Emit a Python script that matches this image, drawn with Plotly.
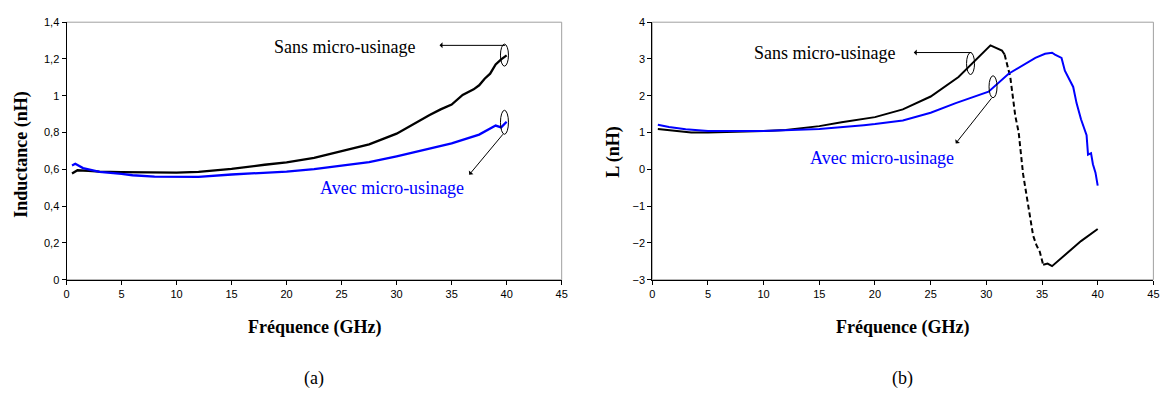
import plotly.graph_objects as go

# ---------------- data ----------------
# (a) Inductance (nH) vs frequency (GHz)
fa_sans = [0.5, 1, 2, 3, 5, 8, 10, 12, 15, 18, 20, 22.5, 25, 27.5, 30, 32, 33, 34, 35, 36, 37, 37.5, 38, 38.5, 39, 39.5, 40]
La_sans = [0.577, 0.595, 0.592, 0.588, 0.585, 0.582, 0.582, 0.586, 0.603, 0.625, 0.638, 0.662, 0.697, 0.736, 0.794,
           0.864, 0.895, 0.926, 0.952, 1.005, 1.035, 1.057, 1.093, 1.12, 1.17, 1.198, 1.22]
fa_avec = [0.5, 0.8, 1.5, 2, 3, 5, 6, 8, 10, 12, 15, 18, 20, 22.5, 25, 27.5, 30, 32.5, 35, 37.5, 39, 39.5, 40]
La_avec = [0.621, 0.63, 0.607, 0.6, 0.586, 0.575, 0.568, 0.56, 0.559, 0.559, 0.572, 0.58, 0.588, 0.601, 0.622,
           0.639, 0.671, 0.706, 0.741, 0.789, 0.838, 0.828, 0.859]

# (b) L (nH) vs frequency (GHz)
fb_sans = [0.5, 2, 3.5, 5, 8, 10, 12, 15, 17, 19, 20, 22.5, 25, 27.5, 28.5, 29.5, 30.37, 31.4, 31.64]
Lb_sans = [1.096, 1.04, 1.0, 1.0, 1.02, 1.04, 1.07, 1.175, 1.28, 1.37, 1.42, 1.63, 1.98, 2.51, 2.81, 3.12, 3.37, 3.23, 3.12]
fb_sans_drop = [31.64, 32.15, 32.6, 32.9, 33.3, 33.8, 34.2, 34.5, 34.8, 35.1]
Lb_sans_drop = [3.12, 2.51, 1.45, 1.01, -0.13, -1.0, -1.8, -2.06, -2.24, -2.59]
fb_sans_tail = [35.1, 35.5, 35.9, 37.05, 38.5, 40]
Lb_sans_tail = [-2.59, -2.56, -2.63, -2.34, -1.95, -1.62]
fb_avec = [0.5, 1.5, 3, 5, 10, 15, 19, 20, 22.5, 25, 27.25, 30.2, 32.0, 34.4, 35.27, 35.9, 36.16, 36.75,
           37.05, 37.8, 38.1, 38.5, 39.0, 39.13, 39.4, 39.57, 39.8, 40.0]
Lb_avec = [1.21, 1.15, 1.09, 1.04, 1.04, 1.1, 1.2, 1.23, 1.33, 1.54, 1.80, 2.11, 2.6, 3.03, 3.14, 3.17, 3.12, 3.03,
           2.68, 2.24, 1.80, 1.36, 0.93, 0.40, 0.44, 0.14, -0.09, -0.44]

x_ticks = [0, 5, 10, 15, 20, 25, 30, 35, 40, 45]
ya_ticks = [0, 0.2, 0.4, 0.6, 0.8, 1.0, 1.2, 1.4]
ya_text = ["0", "0,2", "0,4", "0,6", "0,8", "1", "1,2", "1,4"]
yb_ticks = [-3, -2, -1, 0, 1, 2, 3, 4]

BLACK = "#000000"
BLUE = "#0000FF"
SERIF = "Liberation Serif, Times New Roman, serif"
SANS = "Liberation Sans, Arial, sans-serif"

fig = go.Figure()
lw = 2
fig.add_trace(go.Scatter(x=fa_sans, y=La_sans, mode="lines", line=dict(color=BLACK, width=2.3), xaxis="x", yaxis="y"))
fig.add_trace(go.Scatter(x=fa_avec, y=La_avec, mode="lines", line=dict(color=BLUE, width=2.3), xaxis="x", yaxis="y"))
fig.add_trace(go.Scatter(x=fb_sans, y=Lb_sans, mode="lines", line=dict(color=BLACK, width=lw), xaxis="x2", yaxis="y2"))
fig.add_trace(go.Scatter(x=fb_sans_drop, y=Lb_sans_drop, mode="lines",
                         line=dict(color=BLACK, width=lw, dash="5px,3px"), xaxis="x2", yaxis="y2"))
fig.add_trace(go.Scatter(x=fb_sans_tail, y=Lb_sans_tail, mode="lines", line=dict(color=BLACK, width=lw), xaxis="x2", yaxis="y2"))
fig.add_trace(go.Scatter(x=fb_avec, y=Lb_avec, mode="lines", line=dict(color=BLUE, width=lw), xaxis="x2", yaxis="y2"))

W, H = 1171, 396
xa_dom = [64 / W, 563 / W]
xb_dom = [654.3 / W, 1159.3 / W]
y_dom = [1 - 282.3 / H, 1 - 16.7 / H]

axis_common = dict(showgrid=False, zeroline=False, showline=True, linecolor=BLACK, linewidth=1,
                   ticks="outside", ticklen=4, tickcolor=BLACK, tickwidth=1,
                   tickfont=dict(family=SANS, size=11, color=BLACK))

fig.update_layout(
    width=W, height=H, margin=dict(l=0, r=0, t=0, b=0),
    paper_bgcolor="white", plot_bgcolor="white", showlegend=False,
    xaxis=dict(domain=xa_dom, range=[0, 45], tickvals=x_ticks, anchor="y", **axis_common),
    yaxis=dict(domain=y_dom, range=[0, 1.4], tickvals=ya_ticks, ticktext=ya_text, anchor="x", **axis_common),
    xaxis2=dict(domain=xb_dom, range=[0, 45], tickvals=x_ticks, anchor="y2", **axis_common),
    yaxis2=dict(domain=y_dom, range=[-3, 4], tickvals=yb_ticks, anchor="x2", **axis_common),
)

# gray plot-area frames
for xr, yr in (("x domain", "y domain"), ("x2 domain", "y2 domain")):
    fig.add_shape(type="rect", xref=xr, yref=yr, x0=0, x1=1, y0=0, y1=1,
                  line=dict(color="#A0A0A0", width=1), layer="below")

# ellipses around curve ends
def ellipse(xref, yref, x, y, w, h):
    fig.add_shape(type="circle", xref=xref, yref=yref, xsizemode="pixel", ysizemode="pixel",
                  xanchor=x, yanchor=y, x0=-w / 2, x1=w / 2, y0=-h / 2, y1=h / 2,
                  line=dict(color=BLACK, width=1))

ellipse("x", "y", 39.8, 1.221, 8, 22)
ellipse("x", "y", 39.8, 0.856, 8, 24)
ellipse("x2", "y2", 28.58, 2.877, 8, 22)
ellipse("x2", "y2", 30.6, 2.245, 8, 22)

# arrows: head at (x, y) in data units, tail offset (dx, dy) in pixels
def arrow(xr, yr, x, y, dx, dy):
    fig.add_annotation(xref=xr, yref=yr, x=x, y=y, ax=dx, ay=dy, text="",
                       showarrow=True, arrowhead=1, arrowsize=1, arrowwidth=1, arrowcolor=BLACK,
                       standoff=0, startstandoff=0)

arrow("x", "y", 33.9, 1.274, 67, 0)
arrow("x", "y", 36.6, 0.571, 35, -42)
arrow("x2", "y2", 23.48, 3.175, 59, 0)
arrow("x2", "y2", 27.25, 0.705, 37, -46.7)

def label(xr, yr, x, y, text, color):
    fig.add_annotation(xref=xr, yref=yr, x=x, y=y, text=text, showarrow=False,
                       xanchor="center", yanchor="middle",
                       font=dict(family=SERIF, size=18, color=color))

label("x", "y", 25.3, 1.265, "Sans micro-usinage", BLACK)
label("x", "y", 29.6, 0.499, "Avec micro-usinage", BLUE)
label("x2", "y2", 15.44, 3.15, "Sans micro-usinage", BLACK)
label("x2", "y2", 20.65, 0.31, "Avec micro-usinage", BLUE)

# axis titles and panel labels
def ptext(x, y, text, bold=True, size=18, angle=0):
    fig.add_annotation(xref="paper", yref="paper", x=x / W, y=1 - y / H, text=f"<b>{text}</b>" if bold else text,
                       showarrow=False, textangle=angle, xanchor="center", yanchor="middle",
                       font=dict(family=SERIF, size=size, color=BLACK))

ptext(313.5, 332, "Fréquence (GHz)")
ptext(906.8, 332, "Fréquence (GHz)")
ptext(18.5, 153, "Inductance (nH)", angle=-90)
ptext(615, 150, "L (nH)", angle=-90)
ptext(313.5, 384, "(a)", bold=False, size=18)
ptext(906.8, 384, "(b)", bold=False, size=18)

fig.write_html("out.html", config={"displayModeBar": False},
               post_script="document.body.style.margin='0';document.body.style.overflow='hidden';")
